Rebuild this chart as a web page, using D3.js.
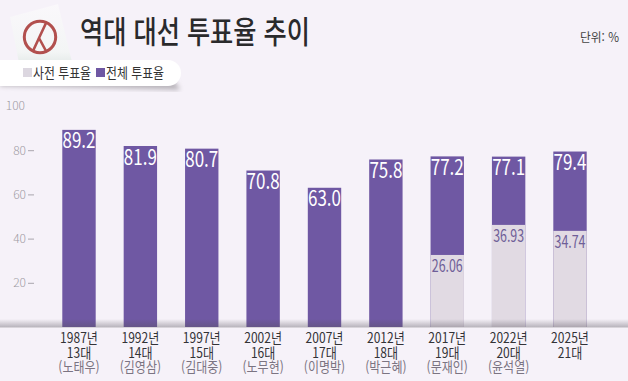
<!DOCTYPE html>
<html lang="ko">
<meta charset="utf-8">
<head>
    <script src='https://d3js.org/d3.v7.min.js'></script>
    <style>
        html, body { margin: 0; padding: 0; background: #f6f2f9; }
        svg { display: block; }
        text { font-family: "Noto Sans CJK KR", sans-serif; }
    </style>
</head>
<body>
<svg width="628" height="381"></svg>

<script>
// data
const years = ["1987년", "1992년", "1997년", "2002년", "2007년", "2012년", "2017년", "2022년", "2025년"];
const rounds = ["13대", "14대", "15대", "16대", "17대", "18대", "19대", "20대", "21대"];
const winners = ["(노태우)", "(김영삼)", "(김대중)", "(노무현)", "(이명박)", "(박근혜)", "(문재인)", "(윤석열)", ""];
const totalTurnout = [89.2, 81.9, 80.7, 70.8, 63.0, 75.8, 77.2, 77.1, 79.4];
const earlyYears = ["2017년", "2022년", "2025년"];
const earlyTurnout = [26.06, 36.93, 34.74];
// the source draws the early bars taller than their printed numbers, so keep the drawn height apart
const earlyDrawn = [32.6, 46.2, 43.5];
const yTicks = [20, 40, 60, 80, 100];

const svg = d3.select("svg");
const baseY = 327;

var x = d3.scaleBand().domain(years).range([62.3, 586.7]).paddingInner(0.456).paddingOuter(0);
var y = d3.scaleLinear().domain([0, 100]).range([baseY, 106]);

const defs = svg.append("defs");
const shade = defs.append("linearGradient").attr("id", "shade")
    .attr("x1", 0).attr("x2", 0).attr("y1", 0).attr("y2", 1);
shade.append("stop").attr("offset", 0).attr("stop-color", "#55505a").attr("stop-opacity", 0);
shade.append("stop").attr("offset", 1).attr("stop-color", "#55505a").attr("stop-opacity", 0.38);
const paperFill = defs.append("linearGradient").attr("id", "paper")
    .attr("x1", 0).attr("x2", 0).attr("y1", 0).attr("y2", 1);
paperFill.append("stop").attr("offset", 0).attr("stop-color", "#faf8fb");
paperFill.append("stop").attr("offset", 0.75).attr("stop-color", "#f3f5f5");
paperFill.append("stop").attr("offset", 1).attr("stop-color", "#dfe6e4");
const blur = defs.append("filter").attr("id", "soft");
blur.append("feGaussianBlur").attr("stdDeviation", 2.5);

// ballot icon
svg.append("path")
    .attr("d", "M10 17 L58 4 L72 62 L20 68 Z")
    .attr("fill", "url(#paper)");
svg.append("circle").attr("cx", 40).attr("cy", 37).attr("r", 15.7)
    .attr("fill", "none").attr("stroke", "#b2504e").attr("stroke-width", 3);
svg.append("path")
    .attr("d", "M46 23 L39 38 L33 51 M39 38 L46 51")
    .attr("fill", "none").attr("stroke", "#b2504e").attr("stroke-width", 2.6);

// title
svg.append("text")
    .attr("x", 80).attr("y", 43)
    .attr("font-size", 31).attr("font-weight", 500).attr("fill", "#2a2a2c")
    .attr("textLength", 230).attr("lengthAdjust", "spacingAndGlyphs")
    .text("역대 대선 투표율 추이");

svg.append("text")
    .attr("x", 619).attr("y", 42).attr("text-anchor", "end")
    .attr("font-size", 12.5).attr("fill", "#444")
    .attr("textLength", 39).attr("lengthAdjust", "spacingAndGlyphs")
    .text("단위: %");

// legend pill
svg.append("path")
    .attr("d", "M0 72 H165 Q178 84 180 90 Q120 88 0 86 Z")
    .attr("fill", "#b8b4ba").attr("filter", "url(#soft)");
svg.append("path")
    .attr("d", "M0 60 H168 A13 13 0 0 1 168 86 H0 Z")
    .attr("fill", "#fff");
svg.append("rect").attr("x", 23).attr("y", 68).attr("width", 9).attr("height", 9).attr("fill", "#dcd7e0");
svg.append("text").attr("x", 33).attr("y", 78).attr("font-size", 14).attr("fill", "#333")
    .attr("textLength", 58).attr("lengthAdjust", "spacingAndGlyphs").text("사전 투표율");
svg.append("rect").attr("x", 96).attr("y", 68).attr("width", 9).attr("height", 9).attr("fill", "#6f58a3");
svg.append("text").attr("x", 106).attr("y", 78).attr("font-size", 14).attr("fill", "#333")
    .attr("textLength", 58).attr("lengthAdjust", "spacingAndGlyphs").text("전체 투표율");

// y axis
const yAxis = svg.append("g")
    .attr("transform", "translate(34,0)")
    .call(d3.axisLeft(y).tickValues(yTicks).tickSize(6).tickPadding(2));
yAxis.select(".domain").remove();
yAxis.selectAll("line").attr("stroke", "#a9a5ad");
yAxis.selectAll("text").attr("font-size", 12).attr("fill", "#a09ca4")
    .style("font-family", "'Noto Sans CJK KR', sans-serif").style("font-weight", 300);
yAxis.selectAll(".tick").filter(d => d === 100).select("line").remove();
yAxis.selectAll(".tick").filter(d => d === 100).select("text").attr("x", -9);

// bars
svg.selectAll(".total")
    .data(years)
    .enter().append("rect")
    .attr("class", "total")
    .attr("x", d => x(d))
    .attr("y", (d, i) => y(totalTurnout[i]))
    .attr("width", x.bandwidth())
    .attr("height", (d, i) => baseY - y(totalTurnout[i]))
    .attr("fill", "#6f58a3");

svg.selectAll(".early")
    .data(earlyYears)
    .enter().append("rect")
    .attr("class", "early")
    .attr("x", d => x(d))
    .attr("y", (d, i) => y(earlyDrawn[i]))
    .attr("width", x.bandwidth())
    .attr("height", (d, i) => baseY - y(earlyDrawn[i]))
    .attr("fill", "#e1dae3");

// shadow along the floor
svg.append("rect").attr("x", 0).attr("y", 319).attr("width", 628).attr("height", 8).attr("fill", "url(#shade)");
svg.append("rect").attr("x", 0).attr("y", 327).attr("width", 628).attr("height", 1).attr("fill", "#d8d4da");

// value labels
svg.selectAll(".totalLabel")
    .data(years)
    .enter().append("text")
    .attr("class", "totalLabel")
    .attr("x", d => x(d) + x.bandwidth() / 2)
    .attr("y", (d, i) => y(totalTurnout[i]) + 18.5)
    .attr("text-anchor", "middle")
    .attr("font-size", 21).attr("font-weight", 400).attr("fill", "#fff")
    .attr("textLength", 33).attr("lengthAdjust", "spacingAndGlyphs")
    .text((d, i) => totalTurnout[i].toFixed(1));

svg.selectAll(".earlyLabel")
    .data(earlyYears)
    .enter().append("text")
    .attr("class", "earlyLabel")
    .attr("x", d => x(d) + x.bandwidth() / 2)
    .attr("y", (d, i) => y(earlyDrawn[i]) + 17.5)
    .attr("text-anchor", "middle")
    .attr("font-size", 17).attr("font-weight", 400).attr("fill", "#6f5f98")
    .attr("textLength", 31).attr("lengthAdjust", "spacingAndGlyphs")
    .text((d, i) => earlyTurnout[i].toFixed(2));

// category labels, one text block per bar
const cats = svg.selectAll(".cat")
    .data(years)
    .enter().append("text")
    .attr("class", "cat")
    .attr("transform", d => "translate(" + (x(d) + x.bandwidth() / 2) + ",0) scale(0.86,1)")
    .attr("text-anchor", "middle")
    .attr("font-size", 14).attr("font-weight", 400);
cats.append("tspan").attr("x", 0).attr("y", 343).attr("fill", "#333337")
    .text(d => d);
cats.append("tspan").attr("x", 0).attr("y", 358).attr("fill", "#333337")
    .text((d, i) => rounds[i]);
cats.append("tspan").attr("x", 0).attr("y", 372).attr("fill", "#7b7482")
    .text((d, i) => winners[i]);
</script>
</body>
</html>
